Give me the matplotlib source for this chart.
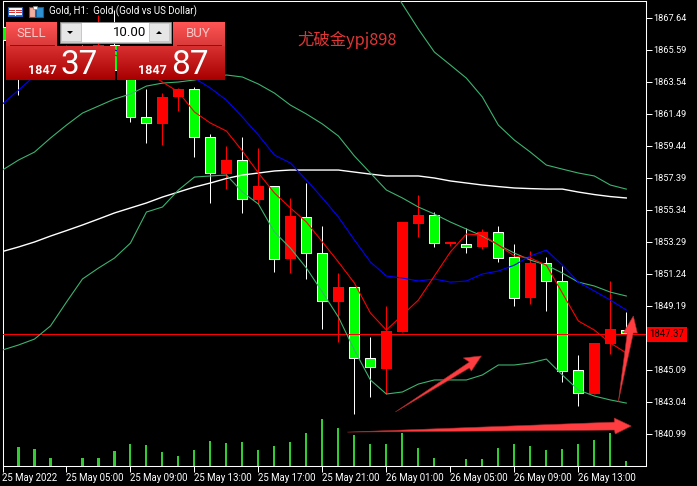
import numpy as np
import matplotlib
matplotlib.use('Agg')
import matplotlib.pyplot as plt
from matplotlib.colors import LinearSegmentedColormap
from matplotlib.patches import Rectangle, Polygon

W, H = 697, 486
nan = float('nan')

opens = [1867.04, 1866.21, 1865.25, 1865.70, 1864.93, 1865.44, 1864.61, 1865.89, 1864.29, 1861.27,
         1860.83, 1862.56, 1863.07, 1859.99, 1857.62, 1858.52, 1855.96, 1856.85, 1852.18, 1854.87,
         1852.56, 1849.42, 1850.38, 1845.84, 1845.13, 1847.50, 1854.42, 1855.00, 1853.14, 1853.14,
         1852.95, 1853.91, 1852.31, 1849.68, 1851.92, 1850.77, 1845.07, 1843.53, 1846.73, 1847.63]
highs = [1867.36, 1866.85, 1866.08, 1866.08, 1865.89, 1865.89, 1867.81, 1868.13, 1864.93, 1863.07,
         1862.81, 1863.13, 1863.20, 1860.19, 1859.42, 1859.99, 1859.29, 1856.85, 1856.09, 1857.05,
         1854.29, 1851.28, 1850.38, 1847.18, 1849.17, 1854.55, 1856.28, 1855.19, 1853.27, 1854.16,
         1854.10, 1854.29, 1853.14, 1852.69, 1852.31, 1851.73, 1846.03, 1846.80, 1850.77, 1848.78]
lows = [1865.95, 1862.68, 1864.93, 1864.61, 1864.61, 1864.29, 1864.29, 1863.97, 1860.95, 1859.61,
        1859.48, 1861.66, 1858.71, 1855.77, 1856.66, 1855.13, 1855.70, 1851.35, 1851.28, 1850.90,
        1847.69, 1846.86, 1842.25, 1843.34, 1843.53, 1847.50, 1853.59, 1852.95, 1853.01, 1852.56,
        1852.82, 1851.99, 1849.17, 1849.30, 1848.85, 1844.30, 1842.76, 1843.53, 1846.09, 1847.37]
closes = [1866.21, 1865.25, 1865.70, 1864.93, 1865.44, 1864.61, 1865.89, 1864.29, 1861.27, 1860.89,
          1862.56, 1863.07, 1859.99, 1857.69, 1858.52, 1856.02, 1856.85, 1852.18, 1854.93, 1852.56,
          1849.49, 1850.38, 1845.84, 1845.26, 1847.57, 1854.55, 1855.00, 1853.20, 1853.27, 1852.95,
          1853.91, 1852.24, 1849.68, 1851.92, 1850.77, 1845.00, 1843.59, 1846.80, 1847.69, 1847.41]
volumes = [0, 1900, 1700, 800, 0, 800, 800, 1500, 2200, 2100,
           1400, 1000, 1600, 2500, 2300, 2400, 1600, 2000, 2400, 3300,
           4700, 3800, 3100, 2200, 2200, 3300, 1800, 800, 0, 700,
           700, 1800, 2200, 2000, 1600, 1700, 2200, 2600, 3300, 500]

ma_white = [1852.66, 1852.95, 1853.27, 1853.65, 1854.00, 1854.36, 1854.74, 1855.13, 1855.45, 1855.77,
            1856.15, 1856.47, 1856.79, 1857.05, 1857.34, 1857.56, 1857.69, 1857.82, 1857.88, 1857.88,
            1857.88, 1857.88, 1857.75, 1857.62, 1857.50, 1857.50, 1857.50, 1857.37, 1857.18, 1857.05,
            1856.92, 1856.82, 1856.73, 1856.69, 1856.66, 1856.66, 1856.47, 1856.31, 1856.18, 1856.09]
band_mid = [1857.88, 1858.52, 1859.03, 1859.93, 1860.76, 1861.53, 1861.98, 1862.43, 1862.75, 1863.26,
            1863.45, 1863.52, 1863.65, 1863.84, 1863.97, 1863.84, 1863.39, 1862.81, 1862.04, 1861.47,
            1860.83, 1860.06, 1858.78, 1857.69, 1856.60, 1856.09, 1855.51, 1855.06, 1854.55, 1854.10,
            1853.65, 1853.08, 1852.56, 1852.11, 1851.79, 1851.28, 1850.70, 1850.45, 1850.06, 1849.81]
band_low = [1846.35, 1846.67, 1847.05, 1847.89, 1849.42, 1850.90, 1851.60, 1852.24, 1853.20, 1855.19,
            1855.51, 1856.60, 1857.43, 1857.50, 1857.56, 1856.47, 1855.70, 1853.91, 1852.88, 1851.60,
            1850.06, 1848.46, 1846.35, 1844.43, 1843.53, 1843.66, 1844.17, 1844.43, 1844.43, 1844.43,
            1844.75, 1845.39, 1845.39, 1845.52, 1845.77, 1844.75, 1843.79, 1843.40, 1843.15, 1842.95]
band_up = [nan] * 24 + [1870.18, 1868.51, 1866.91, 1865.44, 1864.61, 1863.77, 1862.56, 1860.76,
                        1859.80, 1859.03, 1858.20, 1857.94, 1857.69, 1857.50, 1856.92, 1856.66]
ma_blue = [1862.11, 1863.00, 1863.90, 1864.93, 1865.25, 1865.57, 1865.70, 1865.57, 1865.25, 1865.05,
           1864.80, 1864.29, 1863.77, 1863.13, 1862.36, 1861.27, 1860.12, 1858.84, 1858.33, 1857.24,
           1856.09, 1854.87, 1853.40, 1851.99, 1851.09, 1850.96, 1850.77, 1850.90, 1850.70, 1850.77,
           1851.22, 1851.41, 1851.79, 1852.37, 1852.75, 1851.79, 1850.70, 1850.13, 1849.55, 1848.91]
ma_red = [nan, 1865.89, 1866.08, 1865.89, 1865.57, 1865.70, 1865.57, 1865.25, 1864.93, 1864.16,
          1863.52, 1862.88, 1861.60, 1860.89, 1860.38, 1859.10, 1857.69, 1856.41, 1855.45, 1854.55,
          1853.27, 1851.99, 1850.64, 1848.72, 1847.63, 1848.59, 1849.55, 1851.09, 1852.63, 1853.78,
          1853.72, 1853.08, 1852.37, 1852.24, 1851.79, 1850.00, 1848.21, 1847.63, 1846.80, 1846.16]

price_ticks = [1867.64, 1865.59, 1863.54, 1861.49, 1859.44, 1857.39, 1855.34, 1853.29,
               1851.24, 1849.19, 1847.14, 1845.09, 1843.04, 1840.99]
time_ticks = [0, 4, 8, 12, 16, 20, 24, 28, 32, 36]
time_labels = ['25 May 2022', '25 May 05:00', '25 May 09:00', '25 May 13:00', '25 May 17:00',
               '25 May 21:00', '26 May 01:00', '26 May 05:00', '26 May 09:00', '26 May 13:00']
last_price = 1847.37

arrow_mid = [(24.56, 1842.38), (29.19, 1845.58), (28.81, 1845.84), (29.94, 1845.97), (29.31, 1845.00), (29.19, 1845.20)]
arrow_long = [(21.56, 1841.09), (38.25, 1841.73), (38.25, 1841.99), (39.31, 1841.48), (38.31, 1840.97), (38.25, 1841.22)]
arrow_up = [(38.50, 1843.02), (39.06, 1847.44), (38.81, 1847.44), (39.44, 1848.53), (39.69, 1847.44), (39.44, 1847.44)]

plt.rcParams['font.family'] = ['Roboto', 'DejaVu Sans']

fig = plt.figure(figsize=(W / 100, H / 100), dpi=100, facecolor='black')
ax = fig.add_axes([2.5 / W, 1 - 465.5 / H, 643 / W, 464.5 / H], facecolor='black')

x = np.arange(len(opens))
o, h, l, c = map(np.array, (opens, highs, lows, closes))
up = c >= o

# volume first, it sits behind the candles
vol = ax.twinx()
vol.bar(x, volumes, width=0.13, color='#32cd32', linewidth=0)
vol.set_ylim(0, 46450)
vol.axis('off')
vol.set_zorder(1)
ax.set_zorder(2)
ax.patch.set_visible(False)

ax.vlines(x[up], l[up], h[up], color='#ff0000', linewidth=0.72, zorder=2)
ax.vlines(x[~up], l[~up], h[~up], color='white', linewidth=0.72, zorder=2)
ax.bar(x[up], (c - o)[up], bottom=o[up], width=0.66, color='#ff0000', linewidth=0, zorder=3)
ax.bar(x[~up], (c - o)[~up], bottom=o[~up], width=0.62, color='#00ff00', edgecolor='white', linewidth=0.75, zorder=3)

ax.axhline(last_price, color='#ff0000', linewidth=0.72, zorder=4)
ax.plot(x, ma_white, color='white', linewidth=1.0, zorder=5)
ax.plot(x, band_up, color='#3cb371', linewidth=0.8, zorder=5)
ax.plot(x, band_mid, color='#3cb371', linewidth=0.8, zorder=5)
ax.plot(x, band_low, color='#3cb371', linewidth=0.8, zorder=5)
ax.plot(x, ma_blue, color='#0000ff', linewidth=0.8, zorder=5)
ax.plot(x, ma_red, color='#ff0000', linewidth=0.8, zorder=5)

for pts in (arrow_mid, arrow_long, arrow_up):
    ax.add_patch(Polygon(pts, closed=True, facecolor='#ff3c3f', edgecolor='#a82a2c', linewidth=0.4, zorder=6))

ax.set_xlim(0.0156, 40.2)
ax.set_ylim(1838.95, 1868.71)
ax.yaxis.tick_right()
ax.set_yticks(price_ticks)
ax.set_yticklabels(['%.2f' % p for p in price_ticks])
ax.set_xticks(time_ticks)
ax.set_xticklabels(time_labels, ha='left')
ax.tick_params(axis='x', colors='white', labelsize=6.9, length=4, width=0.72, pad=1.5)
ax.tick_params(axis='y', colors='white', labelsize=6.6, length=4, width=0.72, pad=1.5)
for s in ax.spines.values():
    s.set_color('white')
    s.set_linewidth(0.75)
ax.text(1.006, (last_price - 1838.95) / (1868.71 - 1838.95), '%.2f' % last_price, transform=ax.transAxes,
        color='black', fontsize=6.9, ha='left', va='center',
        bbox=dict(facecolor='#ff0000', edgecolor='none', pad=1.8), zorder=10, clip_on=False)

# trade panel and header, in image pixels
ui = fig.add_axes([0, 0, 1, 1], facecolor='none')
ui.set_zorder(5)
ui.axis('off')

grad = np.linspace(0, 1, 32).reshape(-1, 1)
top_cmap = LinearSegmentedColormap.from_list('btn_top', ['#ff5555', '#d93a3a'])
low_cmap = LinearSegmentedColormap.from_list('btn_low', ['#d83030', '#a80000'])
for left, right in ((6, 57), (173, 225)):
    ui.imshow(grad, cmap=top_cmap, extent=(left, right, 46, 22), aspect='auto')
for left, right in ((6, 115), (117, 225)):
    ui.imshow(grad, cmap=low_cmap, extent=(left, right, 80, 46), aspect='auto')
ui.plot([10, 54], [45.5, 45.5], color='#8a1010', lw=0.7)
ui.plot([177, 221], [45.5, 45.5], color='#8a1010', lw=0.7)
ui.add_patch(Rectangle((60, 22), 111, 21, facecolor='#c8c8c8', edgecolor='#909090', lw=0.6))
ui.add_patch(Rectangle((62, 24), 19, 17, facecolor='#e6e6e6', edgecolor='none'))
ui.add_patch(Rectangle((150, 24), 19, 17, facecolor='#e6e6e6', edgecolor='none'))
ui.add_patch(Rectangle((82, 23), 67, 19, facecolor='white', edgecolor='none'))
ui.add_patch(Polygon([(67, 31), (73, 31), (70, 34)], facecolor='black', edgecolor='none'))
ui.add_patch(Polygon([(156, 34), (162, 34), (159, 31)], facecolor='black', edgecolor='none'))

ui.text(146, 32.5, '10.00', color='black', fontsize=9.5, ha='right', va='center')
ui.text(31, 33.5, 'SELL', color='#f8c8c8', fontsize=9.5, ha='center', va='center')
ui.text(198, 33.5, 'BUY', color='#f8c8c8', fontsize=9.5, ha='center', va='center')
ui.text(57, 74, '1847', color='white', fontsize=9, fontweight='bold', ha='right', va='baseline')
ui.text(167, 74, '1847', color='white', fontsize=9, fontweight='bold', ha='right', va='baseline')
ui.text(61, 74, '37', color='white', fontsize=24, ha='left', va='baseline')
ui.text(171, 74, '87', color='white', fontsize=24, ha='left', va='baseline')

ui.text(49, 11.5, 'Gold, H1:  Gold (Gold vs US Dollar)', color='white', fontsize=7.0, ha='left', va='center')
ui.text(297, 39.5, '尤破金ypj898', color='#e03535', fontsize=11.8, ha='left', va='center',
        family=['Noto Sans CJK SC', 'DejaVu Sans'])

# header icons
ui.add_patch(Rectangle((7.5, 7.5), 14, 9, facecolor='white', edgecolor='#2060c0', lw=0.8))
for yy in (10, 12.5, 15):
    ui.plot([9, 14], [yy, yy], color='#d03030', lw=0.7)
    ui.plot([15.5, 20.5], [yy, yy], color='#d03030', lw=0.7)
ui.add_patch(Rectangle((28.5, 7), 6, 10, facecolor='#f0b0a0', edgecolor='#c03030', lw=0.8))
ui.add_patch(Rectangle((36, 7), 6.5, 10, facecolor='#3090d0', edgecolor='#1060a0', lw=0.8))
ui.add_patch(Rectangle((33, 6), 4, 3, facecolor='white', edgecolor='#808080', lw=0.5))

ui.set_xlim(0, W)
ui.set_ylim(H, 0)

fig.savefig('out.png', dpi=100, facecolor='black')
